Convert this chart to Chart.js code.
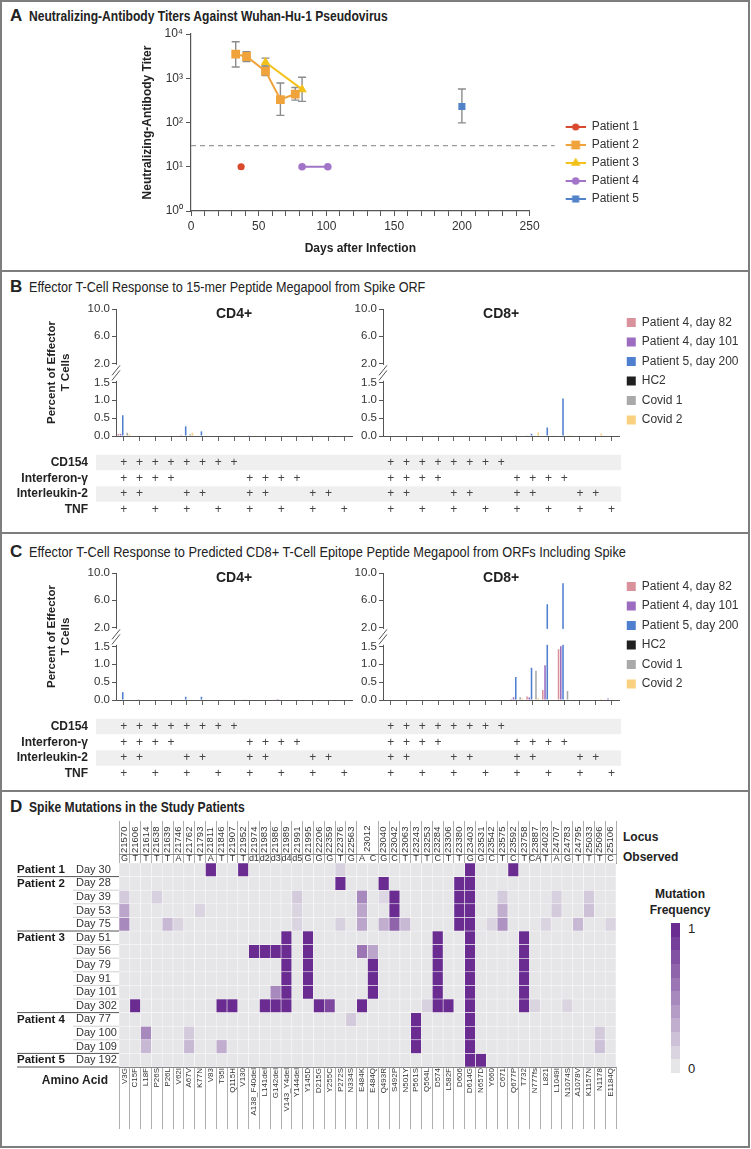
<!DOCTYPE html>
<html>
<head>
<meta charset="utf-8">
<script src="https://cdn.jsdelivr.net/npm/chart.js@4.4.1/dist/chart.umd.min.js"></script>
<style>
  body { margin: 0; background: #fff; }
  #fig { position: relative; width: 751px; height: 1149px; overflow: hidden;
         font-family: "Liberation Sans", Arial, sans-serif; color: #222; }
  #fig canvas { position: absolute; }
  .frame { position: absolute; left: 0; top: 0; width: 750px; height: 1148px; border: 2px solid #7d7d7d; box-sizing: border-box; }
  .hr { position: absolute; left: 0; width: 750px; height: 2px; background: #7d7d7d; }
  .let { position: absolute; left: 10px; font-size: 17px; line-height: 20px; font-weight: bold; }
  .txt { position: absolute; left: 29px; font-size: 15px; line-height: 20px; white-space: nowrap; transform-origin: 0 50%; }
  .lbl { position: absolute; font-weight: bold; font-size: 12px; line-height: 15px; white-space: nowrap; }
</style>
</head>
<body>
<div id="fig">
  <div class="frame"></div>
  <div class="hr" style="top:270px"></div>
  <div class="hr" style="top:532px"></div>
  <div class="hr" style="top:790px"></div>

  <div class="let" style="top:6px">A</div>
  <div class="txt" data-w="359" style="top:6px;font-weight:bold">Neutralizing-Antibody Titers Against Wuhan-Hu-1 Pseudovirus</div>
  <canvas id="chartA" width="751" height="245" style="left:0;top:20px"></canvas>

  <div class="let" style="top:277px">B</div>
  <div class="txt" data-w="396" style="top:277px">Effector T-Cell Response to 15-mer Peptide Megapool from Spike ORF</div>
  <canvas id="chartB4" width="353" height="232" style="left:0;top:295px"></canvas>
  <canvas id="chartB8" width="398" height="232" style="left:353px;top:295px"></canvas>

  <div class="let" style="top:542px">C</div>
  <div class="txt" data-w="597" style="top:542px">Effector T-Cell Response to Predicted CD8+ T-Cell Epitope Peptide Megapool from ORFs Including Spike</div>
  <canvas id="chartC4" width="353" height="232" style="left:0;top:559px"></canvas>
  <canvas id="chartC8" width="398" height="232" style="left:353px;top:559px"></canvas>

  <div class="let" style="top:797px">D</div>
  <div class="txt" data-w="216" style="top:797px;font-weight:bold">Spike Mutations in the Study Patients</div>
  <canvas id="chartD" width="622" height="322" style="left:0;top:815px"></canvas>
  <div class="lbl" style="left:623px;top:830px">Locus</div>
  <div class="lbl" style="left:623px;top:850px">Observed</div>
  <div class="lbl" style="left:20px;width:88px;text-align:right;top:1073px;font-size:12px">Amino Acid</div>
  <div class="lbl" style="left:630px;width:100px;text-align:center;top:886px;line-height:16px">Mutation<br>Frequency</div>
  <div id="colorbar" style="position:absolute;left:671px;top:923px;width:9px;height:150px"></div>
  <div style="position:absolute;left:688px;top:921px;font-size:13px">1</div>
  <div style="position:absolute;left:688px;top:1061px;font-size:13px">0</div>
</div>

<script>
const FONT = '"Liberation Sans", Arial, sans-serif';
Chart.defaults.font.family = FONT;
Chart.defaults.font.size = 12;
Chart.defaults.color = '#333';
Chart.defaults.animation = false;
Chart.defaults.responsive = false;
Chart.defaults.plugins.tooltip.enabled = false;

// ---------- Panel A data ----------
const patientNames = ['Patient 1', 'Patient 2', 'Patient 3', 'Patient 4', 'Patient 5'];
const patientColors = ['#d8492d', '#f0a33b', '#f2c21b', '#a274c7', '#5282c8'];
const patientMarkers = ['circle', 'rect', 'triangle', 'circle', 'rect'];
const markerSizes = [3.6, 6.2, 5.5, 3.8, 5];

const daysP1 = [37];
const titerP1 = [10];
const daysP2 = [33, 41, 55, 66, 77];
const titerP2 = [3500, 3100, 1450, 330, 440];
const lowP2 = [1800, 2400, 1150, 145, 320];
const highP2 = [6700, 4000, 1900, 780, 620];
const daysP3 = [55, 82];
const titerP3 = [2300, 560];
const lowP3 = [1850, 300];
const highP3 = [2850, 1050];
const daysP4 = [82, 101];
const titerP4 = [10, 10];
const daysP5 = [200];
const titerP5 = [230];
const lowP5 = [98];
const highP5 = [570];
const detectionLimit = 30;
const titerTickValues = [1, 10, 100, 1000, 10000];
const titerTickLabels = ['10⁰', '10¹', '10²', '10³', '10⁴'];

// ---------- Panels B and C data ----------
const groupNames = ['Patient 4, day 82', 'Patient 4, day 101', 'Patient 5, day 200', 'HC2', 'Covid 1', 'Covid 2'];
const groupColors = ['#d9919c', '#9b6cc0', '#4f80cf', '#1f1f1f', '#a9a9a9', '#f9d07f'];
const cd154Signs = [1, 1, 1, 1, 1, 1, 1, 1, 0, 0, 0, 0, 0, 0, 0];
const ifnSigns   = [1, 1, 1, 1, 0, 0, 0, 0, 1, 1, 1, 1, 0, 0, 0];
const il2Signs   = [1, 1, 0, 0, 1, 1, 0, 0, 1, 1, 0, 0, 1, 1, 0];
const tnfSigns   = [1, 0, 1, 0, 1, 0, 1, 0, 1, 0, 1, 0, 1, 0, 1];
const tableLabels = ['CD154', 'Interferon-γ', 'Interleukin-2', 'TNF'];
const yTickValues = [0, 0.5, 1, 1.5, 2, 6, 10];
const yTickLabels = ['0.0', '0.5', '1.0', '1.5', '2.0', '6.0', '10.0'];

// order of series: P4 d82, P4 d101, P5 d200, HC2, Covid 1, Covid 2
const spikeCD4 = [
  [0.06, 0, 0, 0, 0.03, 0, 0, 0, 0, 0, 0, 0, 0, 0, 0],
  [0.06, 0, 0, 0, 0, 0, 0, 0, 0, 0, 0, 0, 0, 0, 0],
  [0.58, 0.015, 0, 0, 0.27, 0.13, 0, 0, 0.02, 0, 0, 0, 0.02, 0, 0],
  [0, 0, 0, 0, 0, 0, 0, 0, 0, 0, 0, 0, 0, 0, 0],
  [0.09, 0, 0, 0, 0.05, 0, 0, 0, 0, 0, 0, 0, 0, 0, 0],
  [0.05, 0, 0, 0, 0.09, 0, 0, 0, 0.01, 0, 0, 0, 0, 0, 0]
];
const spikeCD8 = [
  [0, 0, 0, 0, 0, 0, 0, 0, 0, 0.02, 0, 0, 0, 0, 0],
  [0, 0, 0, 0, 0, 0, 0, 0, 0, 0, 0, 0, 0, 0, 0],
  [0, 0, 0, 0, 0, 0, 0, 0, 0.02, 0.06, 0.24, 1.05, 0, 0, 0],
  [0, 0, 0, 0, 0, 0, 0, 0, 0, 0, 0, 0, 0, 0, 0],
  [0, 0, 0, 0, 0, 0, 0, 0, 0, 0, 0, 0, 0, 0, 0],
  [0, 0, 0, 0, 0, 0, 0, 0, 0, 0.1, 0.01, 0.03, 0, 0.07, 0]
];
const epitopeCD4 = [
  [0, 0, 0, 0, 0, 0, 0, 0, 0.02, 0, 0.02, 0, 0, 0, 0],
  [0, 0, 0, 0, 0, 0, 0, 0, 0.01, 0, 0.03, 0, 0, 0, 0],
  [0.22, 0.02, 0, 0, 0.09, 0.09, 0, 0, 0, 0, 0, 0, 0, 0, 0],
  [0, 0, 0, 0, 0, 0, 0, 0, 0, 0, 0, 0, 0, 0, 0],
  [0, 0, 0, 0, 0, 0, 0, 0, 0, 0, 0, 0, 0, 0, 0],
  [0, 0, 0, 0, 0, 0, 0, 0, 0, 0, 0, 0, 0, 0, 0]
];
const epitopeCD8 = [
  [0, 0, 0, 0, 0, 0, 0, 0, 0.03, 0.1, 0.28, 1.42, 0, 0, 0],
  [0, 0, 0, 0, 0, 0, 0, 0, 0.08, 0.07, 0.97, 1.5, 0, 0, 0.04],
  [0, 0, 0, 0, 0, 0, 0, 0, 0.64, 0.9, 5.4, 8.5, 0, 0, 0],
  [0, 0, 0, 0, 0, 0, 0, 0, 0, 0, 0, 0, 0, 0, 0],
  [0, 0, 0, 0, 0, 0, 0, 0, 0.08, 0.82, 0, 0.25, 0, 0, 0],
  [0, 0, 0, 0, 0, 0, 0, 0, 0.04, 0.05, 0, 0, 0, 0.03, 0]
];

// ---------- Panel D data ----------
const aminoAcids = ['V3G', 'C15F', 'L18F', 'P26S', 'P26L', 'V62I', 'A67V', 'K77N', 'V83', 'T95I',
  'Q115H', 'V130', 'A138_F40del', 'L141del', 'G142del', 'V143_Y4del', 'Y144del', 'Y145D', 'D215G', 'Y255C',
  'P272S', 'N334S', 'E484K', 'E484Q', 'Q493R', 'S492P', 'N501Y', 'P561S', 'Q564L', 'D574',
  'L582F', 'D606', 'D614G', 'N657D', 'Y660', 'C671', 'Q677P', 'T732', 'N777fs', 'L821',
  'L1049I', 'N1074S', 'A1078V', 'K1157N', 'N1178', 'E1184Q'];
const loci = ['21570', '21606', '21614', '21638', '21639', '21746', '21762', '21793', '21811', '21846',
  '21907', '21952', '21974', '21983', '21986', '21989', '21991', '21995', '22206', '22359',
  '22376', '22563', '23012', '23012', '23040', '23042', '23063', '23243', '23253', '23284',
  '23306', '23380', '23403', '23531', '23542', '23575', '23592', '23758', '23887', '24023',
  '24707', '24783', '24795', '25033', '25096', '25106'];
const observedBases = ['G', 'T', 'T', 'T', 'T', 'A', 'T', 'T', 'A', 'T',
  'T', 'T', 'd1', 'd2', 'd3', 'd4', 'd5', 'G', 'G', 'G',
  'T', 'G', 'A', 'C', 'G', 'C', 'T', 'T', 'T', 'C',
  'T', 'T', 'G', 'G', 'C', 'T', 'C', 'T', 'CA', 'T',
  'A', 'G', 'T', 'T', 'T', 'C'];
const samplePatients = ['Patient 1', 'Patient 2', '', '', '', 'Patient 3', '', '', '', '', '', 'Patient 4', '', '', 'Patient 5'];
const sampleDays = ['Day 30', 'Day 28', 'Day 39', 'Day 53', 'Day 75', 'Day 51', 'Day 56', 'Day 79', 'Day 91', 'Day 101', 'Day 302', 'Day 77', 'Day 100', 'Day 109', 'Day 192'];

const p1d30 = [0, 0, 0, 0, 0, 0, 0, 0, 1, 0,  0, 1, 0, 0, 0, 0, 0, 0, 0, 0,  .12, 0, 0, 0, 0, 0, 0, 0, 0, 0,  0, 0, 1, 0, 0, 0, 1, 0, 0, 0,  0, 0, 0, 0, 0, 0];
const p2d28 = [0, 0, 0, 0, 0, 0, 0, 0, 0, 0,  0, 0, 0, 0, 0, 0, 0, 0, 0, 0,  1, 0, 0, 0, 1, 0, 0, 0, 0, 0,  0, 1, 1, 0, 0, 0, 0, 0, 0, 0,  0, 0, 0, 0, 0, 0];
const p2d39 = [.15, 0, 0, .12, 0, 0, 0, 0, 0, 0,  0, 0, 0, 0, 0, 0, .15, 0, 0, 0,  0, 0, .5, 0, .08, 1, 0, 0, 0, 0,  0, 1, 1, 0, 0, .15, 0, 0, 0, 0,  .12, 0, 0, .15, 0, 0];
const p2d53 = [.35, 0, 0, 0, 0, 0, 0, .1, 0, 0,  0, 0, 0, 0, 0, 0, .1, 0, 0, 0,  0, 0, .35, 0, 0, 1, 0, 0, 0, 0,  0, 1, 1, 0, 0, .3, 0, 0, 0, 0,  .15, 0, 0, .2, 0, 0];
const p2d75 = [.5, 0, 0, 0, .25, .1, 0, 0, 0, 0,  0, 0, 0, 0, 0, 0, .1, 0, 0, 0,  .12, 0, .35, 0, .3, .7, .25, 0, 0, 0,  0, 1, 1, 0, .1, .45, 0, 0, 0, .1,  0, 0, .25, 0, 0, .1];
const p3d51 = [0, 0, 0, 0, 0, 0, 0, 0, 0, 0,  0, 0, 0, 0, 0, 1, 0, 1, 0, 0,  0, 0, 0, 0, 0, 0, 0, 0, 0, 1,  0, 0, 1, 0, 0, 0, 0, 1, 0, 0,  0, 0, 0, 0, 0, 0];
const p3d56 = [0, 0, 0, 0, 0, 0, 0, 0, 0, 0,  0, 0, 1, 1, 1, 1, 0, 1, 0, 0,  0, 0, .6, .35, 0, 0, 0, 0, 0, 1,  0, 0, 1, 0, 0, 0, 0, 1, 0, 0,  0, 0, 0, 0, 0, 0];
const p3d79 = [0, 0, 0, 0, 0, 0, 0, 0, 0, 0,  0, 0, 0, 0, 0, 1, 0, 1, 0, 0,  0, 0, 0, 1, 0, 0, 0, 0, 0, 1,  0, 0, 1, 0, 0, 0, 0, 1, 0, 0,  0, 0, 0, 0, 0, 0];
const p3d91 = [0, 0, 0, 0, 0, 0, 0, 0, 0, 0,  0, 0, 0, 0, 0, 1, 0, 1, 0, 0,  0, 0, 0, 1, 0, 0, 0, 0, 0, 1,  0, 0, 1, 0, 0, 0, 0, 1, 0, 0,  0, 0, 0, 0, 0, 0];
const p3d101 = [0, 0, 0, 0, 0, 0, 0, 0, 0, 0,  0, 0, 0, 0, .5, 1, 0, 1, 0, 0,  0, 0, 0, 1, 0, 0, 0, 0, 0, 1,  0, 0, 1, 0, 0, 0, 0, 1, 0, 0,  0, 0, 0, 0, 0, 0];
const p3d302 = [0, 1, 0, 0, 0, 0, 0, 0, 0, 1,  1, 0, 0, 1, 1, 1, 0, 0, 1, .85,  0, 0, 1, 0, 0, 0, 0, 0, .12, 1,  1, 0, 1, 0, 0, 0, 0, 1, .1, 0,  0, .1, 0, 0, 0, 0];
const p4d77 = [0, 0, 0, 0, 0, 0, 0, 0, 0, 0,  0, 0, 0, 0, 0, 0, 0, 0, 0, 0,  0, .15, 0, 0, 0, 0, 0, 1, 0, 0,  0, 0, 1, 0, 0, 0, 0, 0, 0, 0,  0, 0, 0, 0, 0, 0];
const p4d100 = [0, 0, .5, 0, 0, 0, .15, 0, 0, 0,  0, 0, 0, 0, 0, 0, 0, 0, 0, 0,  0, 0, 0, 0, 0, 0, 0, 1, 0, 0,  0, 0, 1, 0, 0, 0, 0, 0, 0, 0,  0, 0, 0, 0, .15, 0];
const p4d109 = [0, 0, .25, 0, 0, 0, .25, 0, 0, .3,  0, 0, 0, 0, 0, 0, 0, 0, 0, 0,  0, 0, 0, 0, 0, 0, 0, 1, 0, 0,  0, 0, 1, 0, 0, 0, 0, 0, 0, 0,  0, 0, 0, 0, .2, 0];
const p5d192 = [0, 0, 0, 0, 0, 0, 0, 0, 0, 0,  0, 0, 0, 0, 0, 0, 0, 0, 0, 0,  0, 0, 0, 0, 0, 0, 0, 0, 0, 0,  0, 0, 1, 1, 0, 0, 0, 0, 0, 0,  0, 0, 0, 0, 0, 0];
const sampleFreqs = [p1d30, p2d28, p2d39, p2d53, p2d75, p3d51, p3d56, p3d79, p3d91, p3d101, p3d302, p4d77, p4d100, p4d109, p5d192];
const colorbarLevels = [1, 0.9, 0.8, 0.7, 0.6, 0.5, 0.4, 0.3, 0.2, 0.1, 0];

// ---------- helpers ----------
function freqColor(f) {
  const c0 = [230, 230, 233], c1 = [106, 44, 145];
  return 'rgb(' + c0.map((c, k) => Math.round(c + (c1[k] - c) * f)).join(',') + ')';
}

// broken y axis: 0-1.5 linear, then 2-10 compressed
function brk(v) {
  if (v <= 1.5) return v;
  if (v < 2) return 1.5 + (v - 1.5) * 1.06;
  return 2.03 + (v - 2) * 0.19;
}

function legendIcon(i) {
  const c = document.createElement('canvas');
  c.width = 50; c.height = 14;
  const g = c.getContext('2d');
  const col = patientColors[i];
  g.strokeStyle = col; g.fillStyle = col; g.lineWidth = 2;
  g.beginPath(); g.moveTo(30, 7); g.lineTo(50, 7); g.stroke();
  const cx = 40, cy = 7, r = markerSizes[i];
  g.beginPath();
  if (patientMarkers[i] === 'circle') g.arc(cx, cy, r, 0, Math.PI * 2);
  else if (patientMarkers[i] === 'rect') { const s = r * Math.SQRT1_2; g.rect(cx - s, cy - s, 2 * s, 2 * s); }
  else { g.moveTo(cx, cy - r); g.lineTo(cx + r * 0.87, cy + r * 0.5); g.lineTo(cx - r * 0.87, cy + r * 0.5); g.closePath(); }
  g.fill();
  return c;
}

// ---------- plugins ----------
const errorBars = {
  id: 'errorBars',
  beforeDatasetsDraw(chart) {
    const {ctx, scales: {x, y}} = chart;
    ctx.save();
    ctx.strokeStyle = '#8c8c8c';
    ctx.lineWidth = 1.4;
    chart.data.datasets.forEach(ds => {
      if (!ds.errLow) return;
      ds.data.forEach((p, j) => {
        const px = x.getPixelForValue(p.x);
        const t = y.getPixelForValue(ds.errHigh[j]);
        const b = y.getPixelForValue(ds.errLow[j]);
        ctx.beginPath();
        ctx.moveTo(px, t); ctx.lineTo(px, b);
        ctx.moveTo(px - 4, t); ctx.lineTo(px + 4, t);
        ctx.moveTo(px - 4, b); ctx.lineTo(px + 4, b);
        ctx.stroke();
      });
    });
    ctx.restore();
  }
};

const limitLine = {
  id: 'limitLine',
  beforeDatasetsDraw(chart) {
    const {ctx, chartArea, scales: {y}} = chart;
    const py = y.getPixelForValue(detectionLimit);
    ctx.save();
    ctx.strokeStyle = '#9a9a9a';
    ctx.lineWidth = 1.2;
    ctx.setLineDash([5, 4]);
    ctx.beginPath();
    ctx.moveTo(chartArea.left, py);
    ctx.lineTo(chartArea.right + 25, py);
    ctx.stroke();
    ctx.restore();
  }
};

const axisBreak = {
  id: 'axisBreak',
  afterDatasetsDraw(chart) {
    const {ctx, chartArea, scales: {y}} = chart;
    const yLow = y.getPixelForValue(brk(1.5));
    const yHigh = y.getPixelForValue(brk(2));
    ctx.save();
    ctx.fillStyle = '#fff';
    ctx.fillRect(chartArea.left - 2, yHigh + 1.5, chartArea.width + 4, yLow - yHigh - 3);
    ctx.strokeStyle = '#555';
    ctx.lineWidth = 1;
    const ym = (yLow + yHigh) / 2;
    [-2.5, 2.5].forEach(d => {
      ctx.beginPath();
      ctx.moveTo(chartArea.left - 4, ym + d + 5);
      ctx.lineTo(chartArea.left + 4, ym + d - 5);
      ctx.stroke();
    });
    ctx.restore();
  }
};

const subtitleText = {
  id: 'subtitleText',
  afterDraw(chart, args, o) {
    const {ctx, chartArea} = chart;
    ctx.save();
    ctx.font = 'bold 14px ' + FONT;
    ctx.fillStyle = '#222';
    ctx.textAlign = 'center';
    ctx.textBaseline = 'middle';
    ctx.fillText(o.text, (chartArea.left + chartArea.right) / 2, chartArea.top + 5);
    ctx.restore();
  }
};

const signTable = {
  id: 'signTable',
  afterDraw(chart, args, o) {
    const {ctx, chartArea, scales: {x}} = chart;
    const rows = [cd154Signs, ifnSigns, il2Signs, tnfSigns];
    ctx.save();
    ctx.textBaseline = 'middle';
    rows.forEach((row, r) => {
      const cy = chartArea.bottom + 26.5 + r * 15.8;
      if (r % 2 === 0) {
        ctx.fillStyle = '#efefef';
        ctx.fillRect(o.bandLeft, cy - 7.7, o.bandRight - o.bandLeft, 15.4);
      }
      if (o.showLabels) {
        ctx.font = 'bold 12px ' + FONT;
        ctx.fillStyle = '#222';
        ctx.textAlign = 'right';
        ctx.fillText(tableLabels[r], 88, cy);
      }
      ctx.font = '12px ' + FONT;
      ctx.fillStyle = '#444';
      ctx.textAlign = 'center';
      row.forEach((on, i) => { if (on) ctx.fillText('+', x.getPixelForValue(i), cy); });
    });
    ctx.restore();
  }
};

const rowLabels = {
  id: 'rowLabels',
  afterDraw(chart) {
    const {ctx, chartArea, scales: {y}} = chart;
    ctx.save();
    ctx.textBaseline = 'middle';
    sampleDays.forEach((day, r) => {
      const cy = y.getPixelForValue(r + 0.5);
      const top = y.getPixelForValue(r);
      ctx.textAlign = 'left';
      if (samplePatients[r]) {
        ctx.font = 'bold 11.5px ' + FONT;
        ctx.fillStyle = '#1a1a1a';
        ctx.fillText(samplePatients[r], 17, cy);
        if (r > 0) {
          ctx.strokeStyle = '#555'; ctx.lineWidth = 1;
          ctx.beginPath(); ctx.moveTo(17, top); ctx.lineTo(chartArea.left, top); ctx.stroke();
        }
      } else {
        ctx.strokeStyle = '#d0d0d0'; ctx.lineWidth = 1;
        ctx.beginPath(); ctx.moveTo(73, top); ctx.lineTo(chartArea.left, top); ctx.stroke();
      }
      ctx.font = '11px ' + FONT;
      ctx.fillStyle = '#333';
      ctx.fillText(day, 76, cy);
    });
    const bottom = y.getPixelForValue(sampleDays.length);
    ctx.strokeStyle = '#555';
    ctx.beginPath(); ctx.moveTo(17, bottom); ctx.lineTo(chartArea.left, bottom); ctx.stroke();
    ctx.restore();
  }
};

const splitLocus = {
  id: 'splitLocus',
  afterDraw(chart) {
    const {ctx} = chart;
    const s = chart.scales.xLocus;
    const cx = (s.getPixelForValue(22) + s.getPixelForValue(23)) / 2;
    ctx.save();
    ctx.translate(cx, s.bottom - 2);
    ctx.rotate(-Math.PI / 2);
    ctx.font = '9.5px ' + FONT;
    ctx.fillStyle = '#333';
    ctx.textAlign = 'left';
    ctx.textBaseline = 'middle';
    ctx.fillText(loci[22], 0, 0);
    ctx.restore();
  }
};

// ---------- Panel A ----------
const seriesA = [
  {days: daysP1, titer: titerP1, line: false},
  {days: daysP2, titer: titerP2, low: lowP2, high: highP2, line: true},
  {days: daysP3, titer: titerP3, low: lowP3, high: highP3, line: true},
  {days: daysP4, titer: titerP4, line: true},
  {days: daysP5, titer: titerP5, low: lowP5, high: highP5, line: false}
];

new Chart(document.getElementById('chartA'), {
  type: 'line',
  data: {
    datasets: seriesA.map((s, i) => ({
      label: patientNames[i],
      data: s.days.map((d, j) => ({x: d, y: s.titer[j]})),
      errLow: s.low,
      errHigh: s.high,
      borderColor: patientColors[i],
      backgroundColor: patientColors[i],
      borderWidth: 2,
      showLine: s.line,
      pointStyle: patientMarkers[i],
      pointRadius: markerSizes[i],
      pointBorderWidth: 0
    }))
  },
  options: {
    layout: {padding: {left: 140, top: 14, right: 102, bottom: 0}},
    plugins: {
      legend: {
        position: 'right', align: 'end', fullSize: false, maxWidth: 160,
        labels: {
          usePointStyle: true, pointStyleWidth: 50, padding: 6, font: {size: 12}, color: '#333',
          generateLabels: chart => chart.data.datasets.map((ds, i) => ({
            text: ds.label, pointStyle: legendIcon(i), fillStyle: 'rgba(0,0,0,0)',
            strokeStyle: 'rgba(0,0,0,0)', lineWidth: 0, datasetIndex: i, hidden: false, fontColor: '#333'
          }))
        }
      }
    },
    scales: {
      x: {
        type: 'linear', min: 0, max: 250,
        ticks: {stepSize: 10, autoSkip: false, maxRotation: 0, padding: 3, font: {size: 12}, color: '#333',
                callback: v => (v % 50 === 0 ? v : '')},
        grid: {drawOnChartArea: false, tickLength: 5, color: '#555'},
        border: {color: '#555', width: 1.2},
        title: {display: true, text: 'Days after Infection', font: {size: 12, weight: 'bold'}, color: '#222', padding: {top: 0, bottom: 9}},
        afterFit: s => { s.height = 54; }
      },
      y: {
        type: 'logarithmic', min: 1, max: 10000,
        afterBuildTicks: s => { s.ticks = titerTickValues.map(v => ({value: v})); },
        ticks: {padding: 3, font: {size: 12}, color: '#333', callback: (v, i) => titerTickLabels[i]},
        grid: {drawOnChartArea: false, tickLength: 5, color: '#555'},
        border: {color: '#555', width: 1.2},
        title: {display: true, text: 'Neutralizing-Antibody Titer', font: {size: 12, weight: 'bold'}, color: '#222', padding: {top: 0, bottom: 4}},
        afterFit: s => { s.width = 51; }
      }
    }
  },
  plugins: [errorBars, limitLine]
});

// ---------- Panels B and C ----------
const comboLabels = cd154Signs.map((c, i) =>
  [c ? 'CD154' : '', ifnSigns[i] ? 'IFN' : '', il2Signs[i] ? 'IL2' : '', tnfSigns[i] ? 'TNF' : ''].filter(Boolean).join('+'));

function tcellChart(id, values, opt) {
  return new Chart(document.getElementById(id), {
    type: 'bar',
    data: {
      labels: comboLabels,
      datasets: values.map((vals, i) => ({
        label: groupNames[i],
        data: vals.map(brk),
        backgroundColor: groupColors[i],
        borderWidth: 0,
        categoryPercentage: 0.85,
        barPercentage: 0.7
      }))
    },
    options: {
      layout: {padding: {left: opt.padLeft, top: 14, right: opt.padRight, bottom: 0}},
      plugins: {
        legend: opt.legend ? {
          position: 'right', align: 'start', fullSize: false, maxWidth: 160,
          labels: {boxWidth: 9, boxHeight: 9, padding: 7.5, font: {size: 12}, color: '#333'}
        } : {display: false},
        subtitleText: {text: opt.subtitle},
        signTable: {showLabels: opt.rowLabels, bandLeft: opt.bandLeft, bandRight: opt.bandRight}
      },
      scales: {
        x: {
          ticks: {display: false},
          grid: {drawOnChartArea: false, offset: false, tickLength: 5, color: '#666'},
          border: {color: '#555'},
          afterFit: s => { s.height = 91; }
        },
        y: {
          min: 0, max: brk(10),
          afterBuildTicks: s => { s.ticks = yTickValues.map(v => ({value: brk(v)})); },
          ticks: {padding: 2, font: {size: 11.5}, color: '#333', callback: (v, i) => yTickLabels[i]},
          grid: {drawOnChartArea: false, tickLength: 4, color: '#555'},
          border: {color: '#555'},
          title: opt.yTitle
            ? {display: true, text: ['Percent of Effector', 'T Cells'], font: {size: 11.5, weight: 'bold'}, color: '#222', padding: {top: 0, bottom: 0}}
            : {display: false},
          afterFit: s => { s.width = opt.yWidth; }
        }
      }
    },
    plugins: [axisBreak, subtitleText, signTable]
  });
}

tcellChart('chartB4', spikeCD4, {padLeft: 45, padRight: 1, yWidth: 71, yTitle: true, legend: false, subtitle: 'CD4+', rowLabels: true, bandLeft: 96, bandRight: 353});
tcellChart('chartB8', spikeCD8, {padLeft: 0, padRight: 2.5, yWidth: 30, yTitle: false, legend: true, subtitle: 'CD8+', rowLabels: false, bandLeft: 0, bandRight: 268});
tcellChart('chartC4', epitopeCD4, {padLeft: 45, padRight: 1, yWidth: 71, yTitle: true, legend: false, subtitle: 'CD4+', rowLabels: true, bandLeft: 96, bandRight: 353});
tcellChart('chartC8', epitopeCD8, {padLeft: 0, padRight: 2.5, yWidth: 30, yTitle: false, legend: true, subtitle: 'CD8+', rowLabels: false, bandLeft: 0, bandRight: 268});

// ---------- Panel D ----------
const hideSplit = ctx => (ctx.index === 23 ? 'rgba(0,0,0,0)' : '#9a9a9a');

new Chart(document.getElementById('chartD'), {
  type: 'bar',
  data: {
    labels: aminoAcids,
    datasets: sampleFreqs.map((row, r) => ({
      label: sampleDays[r],
      data: row.map(() => 1),
      backgroundColor: row.map(freqColor),
      borderColor: '#f8f8f8',
      borderWidth: 0.6,
      borderSkipped: false,
      barPercentage: 1,
      categoryPercentage: 1
    }))
  },
  options: {
    layout: {padding: {top: 6, right: 6, left: 0, bottom: 0}},
    plugins: {legend: {display: false}},
    scales: {
      x: {
        stacked: true, position: 'bottom',
        ticks: {autoSkip: false, minRotation: 90, maxRotation: 90, padding: -61, font: {size: 8}, color: '#333'},
        grid: {drawOnChartArea: false, offset: true, tickLength: 62, color: '#9a9a9a', lineWidth: 0.8},
        border: {color: '#888'},
        afterFit: s => { s.height = 70; }
      },
      xObs: {
        type: 'category', labels: observedBases, position: 'top', weight: 0, offset: true,
        ticks: {autoSkip: false, minRotation: 0, maxRotation: 0, padding: -10, font: {size: 9}, color: '#333'},
        grid: {drawOnChartArea: false, offset: true, tickLength: 9, color: hideSplit, lineWidth: 0.8},
        border: {color: '#888'},
        afterFit: s => { s.height = 9; }
      },
      xLocus: {
        type: 'category', labels: loci, position: 'top', weight: 1, offset: true,
        ticks: {autoSkip: false, minRotation: 90, maxRotation: 90, padding: -32, labelOffset: 11.4, font: {size: 9.5}, color: '#333',
                callback: (v, i) => (i === 22 || i === 23 ? '' : loci[i])},
        grid: {drawOnChartArea: false, offset: true, tickLength: 33, color: hideSplit, lineWidth: 0.8},
        border: {color: '#888'},
        afterFit: s => { s.height = 33; }
      },
      y: {
        stacked: true, min: 0, max: sampleDays.length, reverse: true,
        ticks: {display: false},
        grid: {display: false},
        border: {display: false},
        afterFit: s => { s.width = 119; }
      }
    }
  },
  plugins: [rowLabels, splitLocus]
});

// colour key
const bar = document.getElementById('colorbar');
colorbarLevels.forEach(l => {
  const seg = document.createElement('div');
  seg.style.height = (150 / colorbarLevels.length) + 'px';
  seg.style.background = freqColor(l);
  bar.appendChild(seg);
});

// squeeze panel titles to the condensed width of the original
document.querySelectorAll('.txt').forEach(el => {
  el.style.transform = 'scaleX(' + (Number(el.dataset.w) / el.offsetWidth) + ')';
});
</script>
</body>
</html>
